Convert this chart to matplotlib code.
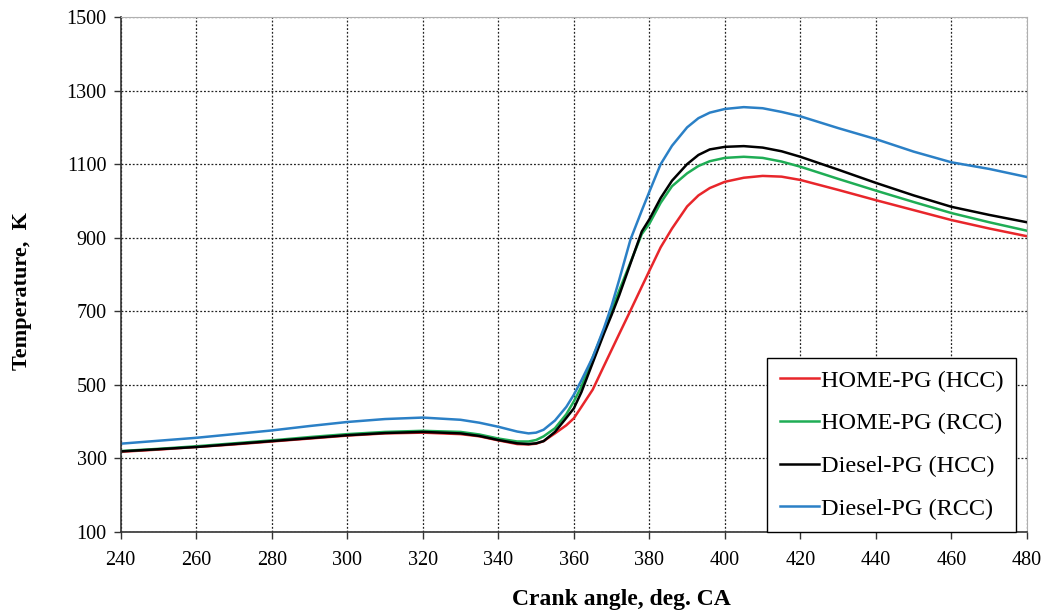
import matplotlib
matplotlib.use("Agg")
import matplotlib.pyplot as plt

angle = [240, 250, 260, 270, 280, 290, 300, 310, 320, 330, 335, 340, 345, 348,
         350, 352, 355, 358, 360, 362, 365, 368, 370, 372, 375, 378, 380, 383,
         386, 390, 393, 396, 400, 405, 410, 415, 420, 430, 440, 450, 460, 470, 480]

home_hcc = [318, 324, 331, 338, 346, 354, 362, 368, 370, 366, 360, 349, 339, 338,
            340, 347, 368, 390, 409, 440, 487, 552, 595, 638, 702, 767, 810, 874,
            925, 985, 1015, 1035, 1052, 1063, 1068, 1066, 1057, 1030, 1002, 975, 948, 925, 904]

home_rcc = [320, 326, 333, 341, 349, 358, 366, 372, 375, 372, 365, 354, 346, 346,
            350, 360, 382, 420, 455, 495, 575, 650, 705, 756, 833, 910, 938, 995,
            1040, 1075, 1095, 1108, 1117, 1120, 1117, 1107, 1093, 1060, 1028, 997, 967, 942, 919]

diesel_hcc = [319, 325, 331, 339, 347, 355, 363, 369, 372, 368, 361, 350, 341, 339,
              341, 347, 372, 410, 436, 480, 560, 640, 690, 743, 830, 917, 950, 1008,
              1055, 1100, 1125, 1140, 1147, 1149, 1145, 1135, 1120, 1085, 1049, 1015, 984, 962, 942]

diesel_rcc = [340, 348, 356, 366, 376, 388, 399, 407, 411, 405, 397, 386, 373, 368,
              370, 378, 403, 440, 473, 512, 575, 655, 715, 785, 895, 974, 1025, 1100,
              1150, 1200, 1225, 1240, 1250, 1255, 1252, 1242, 1230, 1198, 1168, 1134, 1105, 1087, 1065]

labels = ["HOME-PG (HCC)", "HOME-PG (RCC)", "Diesel-PG (HCC)", "Diesel-PG (RCC)"]
colors = ["#e8262b", "#1fad55", "#000000", "#2b80c6"]
series = [home_hcc, home_rcc, diesel_hcc, diesel_rcc]

x_ticks = list(range(240, 481, 20))
y_ticks = list(range(100, 1501, 200))

plt.rcParams['font.family'] = ['Liberation Serif', 'DejaVu Serif']

fig = plt.figure(figsize=(10.46, 6.14), dpi=100)
ax = fig.add_axes([0.1154, 0.1336, 0.9818 - 0.1154, 0.9723 - 0.1336])

for vals, lab, col in zip(series, labels, colors):
    ax.plot(angle, vals, color=col, lw=1.8, label=lab)

ax.set_xlim(240, 480)
ax.set_ylim(100, 1500)
ax.set_xticks(x_ticks)
ax.set_yticks(y_ticks)
ax.tick_params(axis='both', labelsize=14.5, direction='out', length=5, width=1, color='#333333')
ax.tick_params(axis='x', pad=9)
ax.tick_params(axis='y', pad=5)
ax.grid(True, color='#222222', linestyle=(0, (1.5, 1.5)), linewidth=0.9)

for side in ['top', 'right']:
    ax.spines[side].set_color('#b0b0b0')
for side in ['left', 'bottom']:
    ax.spines[side].set_color('#333333')
    ax.spines[side].set_linewidth(1.2)

ax.set_xlabel("Crank angle, deg. CA", fontsize=17, fontweight='bold', va='center')
ax.xaxis.set_label_coords(0.553, -0.132)
ax.set_ylabel("Temperature,  K", fontsize=16, fontweight='bold', va='center')
ax.yaxis.set_label_coords(-0.109, 0.468)

leg = ax.legend(loc='lower right', bbox_to_anchor=(0.9876, 0.0), borderaxespad=0,
                fontsize=17.5, frameon=True, fancybox=False, edgecolor='black',
                handlelength=1.6, handletextpad=0.1, labelspacing=0.85,
                borderpad=0.5, framealpha=1)
leg.get_frame().set_linewidth(1.0)

fig.savefig("out.png", dpi=100)
